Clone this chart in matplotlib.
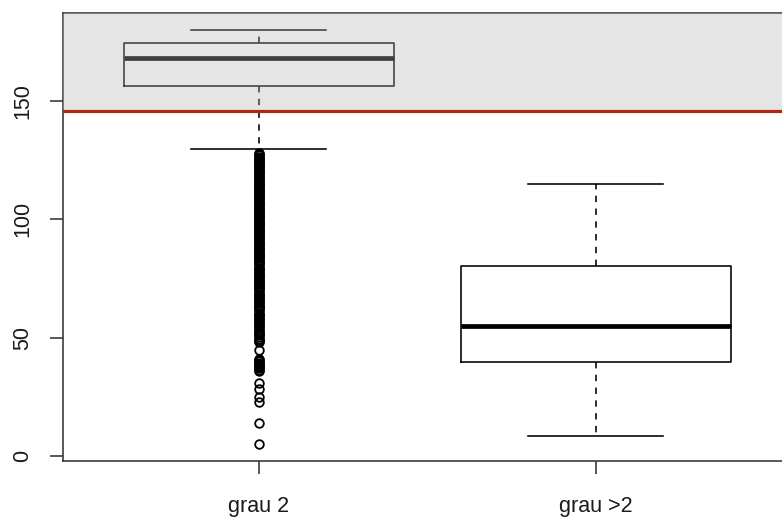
import matplotlib
matplotlib.use('Agg')
import matplotlib.pyplot as plt

# group names
groups = ['grau 2', 'grau >2']

# box statistics
q1 = [156.4, 39.6]
med = [168.0, 54.9]
q3 = [174.7, 80.3]
whislo = [129.6, 8.6]
whishi = [180.0, 115.0]

# outliers of "grau 2": a dense run 48..128 (with a few tiny holes),
# a dense run 36..41 and some single points
holes = [80, 69, 61, 57, 54, 50]
out_grau2 = ([v / 2 for v in range(96, 257) if v / 2 not in holes]
             + [45]
             + [v / 2 for v in range(72, 83)]
             + [31, 28.5, 25, 23, 14, 5])
out_grau3 = []

# threshold line and shaded region
threshold = 146
shade_top = 200

plt.rcParams['font.family'] = ['Liberation Sans', 'DejaVu Sans']

W, H = 782, 521
fig = plt.figure(figsize=(W / 100, H / 100), dpi=100)
ax = fig.add_axes([63 / W, (H - 461) / H, (791.5 - 63) / W, (461 - 13) / H])

stats = []
for i, name in enumerate(groups):
    stats.append(dict(label=name, q1=q1[i], med=med[i], q3=q3[i],
                      whislo=whislo[i], whishi=whishi[i],
                      fliers=[out_grau2, out_grau3][i]))

lw = 1.15
ax.bxp(stats, positions=[1, 2], widths=0.8, capwidths=0.4, showfliers=True,
       boxprops=dict(color='black', linewidth=lw),
       medianprops=dict(color='black', linewidth=3.4, solid_capstyle='butt'),
       whiskerprops=dict(color='black', linewidth=lw, linestyle=(0, (4, 4))),
       capprops=dict(color='black', linewidth=lw),
       flierprops=dict(marker='o', markerfacecolor='none', markeredgecolor='black',
                       markersize=6.2, markeredgewidth=1.3))

ax.axhspan(threshold, shade_top, color=(0.718, 0.718, 0.718), alpha=0.35, lw=0, zorder=5)
ax.axhline(threshold, color='#B0280C', linewidth=2.3, zorder=6)

ax.set_xlim(0.42, 2.58)
ax.set_ylim(-2.1, 187.2)
ax.set_yticks([0, 50, 100, 150])
ax.set_yticklabels(['0', '50', '100', '150'], rotation=90, va='center')
ax.set_xticks([1, 2])
ax.set_xticklabels(groups)

for s in ['left', 'bottom', 'top', 'right']:
    ax.spines[s].set_color('#333333')
    ax.spines[s].set_linewidth(lw)

ax.tick_params(axis='both', length=9.4, width=lw, color='#333333',
               labelsize=15.5, labelcolor='#1a1a1a')
ax.tick_params(axis='y', pad=12)
ax.tick_params(axis='x', pad=16)

fig.savefig('out.png', dpi=100)
